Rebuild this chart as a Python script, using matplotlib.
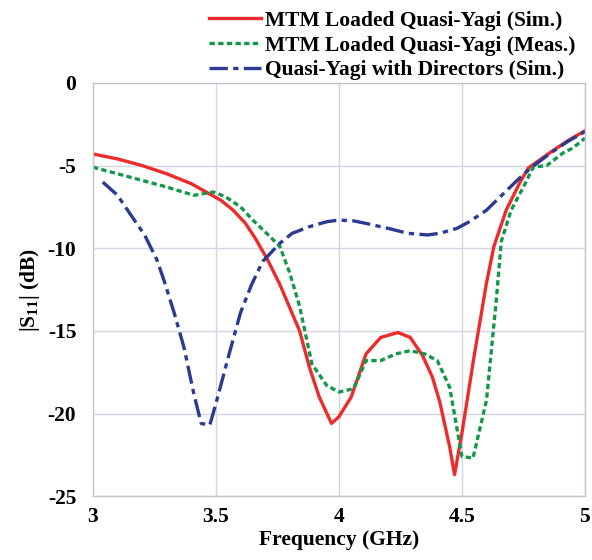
import matplotlib
matplotlib.use("Agg")
import matplotlib.pyplot as plt

# MTM Loaded Quasi-Yagi (Sim.)
f_sim = [3.0, 3.1, 3.2, 3.3, 3.4, 3.46, 3.52, 3.57, 3.62, 3.66, 3.71, 3.76, 3.80, 3.84, 3.88,
         3.92, 3.97, 4.0, 4.05, 4.11, 4.17, 4.24, 4.29, 4.34, 4.38, 4.41, 4.45, 4.47, 4.5,
         4.55, 4.60, 4.63, 4.68, 4.735, 4.77, 4.86, 4.93, 5.0]
s_sim = [-4.3, -4.6, -5.0, -5.5, -6.1, -6.6, -7.1, -7.7, -8.5, -9.4, -10.7, -12.2, -13.6, -15.0,
         -17.2, -19.0, -20.6, -20.2, -19.0, -16.4, -15.4, -15.1, -15.4, -16.5, -17.8, -19.3,
         -22.0, -23.7, -21.2, -16.5, -12.1, -9.9, -7.7, -6.05, -5.15, -4.2, -3.5, -2.9]

# MTM Loaded Quasi-Yagi (Meas.)
f_meas = [3.0, 3.1, 3.2, 3.3, 3.41, 3.49, 3.54, 3.60, 3.65, 3.72, 3.76, 3.80, 3.84, 3.89,
          3.95, 4.0, 4.06, 4.11, 4.17, 4.23, 4.29, 4.35, 4.40, 4.45, 4.50, 4.545, 4.60,
          4.64, 4.66, 4.70, 4.75, 4.79, 4.845, 4.91, 4.95, 5.0]
s_meas = [-5.1, -5.5, -5.9, -6.3, -6.8, -6.6, -6.9, -7.5, -8.3, -9.3, -9.9, -11.5, -13.5, -17.0,
          -18.3, -18.7, -18.5, -16.8, -16.8, -16.4, -16.2, -16.4, -16.8, -18.4, -22.6, -22.7, -19.2,
          -13.1, -9.6, -7.7, -6.3, -5.1, -5.0, -4.25, -3.95, -3.35]

# Quasi-Yagi with Directors (Sim.)
f_dir = [3.04, 3.1, 3.15, 3.21, 3.26, 3.29, 3.33, 3.37, 3.41, 3.44, 3.475, 3.50, 3.55, 3.60,
         3.645, 3.69, 3.76, 3.81, 3.88, 3.95, 4.0, 4.06, 4.11, 4.2, 4.28, 4.36, 4.41, 4.48,
         4.53, 4.6, 4.655, 4.735, 4.78, 4.86, 4.93, 5.0]
s_dir = [-6.0, -6.8, -7.9, -9.2, -10.7, -12.0, -13.9, -16.0, -18.8, -20.6, -20.7, -19.4, -16.6, -13.9,
         -12.2, -10.8, -9.7, -9.1, -8.7, -8.4, -8.3, -8.35, -8.5, -8.8, -9.1, -9.2, -9.1, -8.8,
         -8.4, -7.7, -6.9, -5.75, -5.15, -4.25, -3.55, -2.95]

xticks = [3, 3.5, 4, 4.5, 5]
xticklabels = ["3", "3.5", "4", "4.5", "5"]
yticks = [0, -5, -10, -15, -20, -25]
yticklabels = ["0", "-5", "-10", "-15", "-20", "-25"]

plt.rcParams["font.family"] = "Liberation Serif"
plt.rcParams["font.weight"] = "bold"
plt.rcParams["mathtext.fontset"] = "custom"
plt.rcParams["mathtext.rm"] = "Liberation Serif:bold"
plt.rcParams["mathtext.default"] = "rm"
plt.rcParams["axes.unicode_minus"] = False

fig = plt.figure(figsize=(5.92, 5.6), dpi=100)
ax = fig.add_axes([0.157, 0.114, 0.831, 0.738])

ax.plot(f_sim, s_sim, color="#ee2b2b", lw=2.4, label="MTM Loaded Quasi-Yagi (Sim.)")
ax.plot(f_meas, s_meas, color="#12984a", lw=2.4, dashes=(1.6, 1.0),
        label="MTM Loaded Quasi-Yagi (Meas.)")
ax.plot(f_dir, s_dir, color="#2b3a92", lw=2.4, dashes=(5.5, 1.6, 1.6, 1.6),
        label="Quasi-Yagi with Directors (Sim.)")

ax.set_xlim(3, 5)
ax.set_ylim(-25, 0)
ax.set_xticks(xticks)
ax.set_xticklabels(xticklabels)
ax.set_yticks(yticks)
ax.set_yticklabels(yticklabels)
ax.tick_params(length=0, labelsize=15.5)
ax.tick_params(axis="y", pad=12)
ax.tick_params(axis="x", pad=8)

ax.grid(True, color="#d3d6e2", lw=1.0)
for sp in ax.spines.values():
    sp.set_color("#c4c6cf")
    sp.set_linewidth(1.0)

ax.set_xlabel("Frequency (GHz)", fontsize=15.5, fontweight="bold", labelpad=2)
ax.set_ylabel("|S$_{11}$| (dB)", fontsize=15.5, fontweight="bold", labelpad=4)

leg = fig.legend(loc="upper right", bbox_to_anchor=(0.99, 1.0), frameon=False,
                 fontsize=15.5, handlelength=2.4, handletextpad=0.2, labelspacing=0.22,
                 borderaxespad=0.1)

fig.savefig("out.png", dpi=100)
